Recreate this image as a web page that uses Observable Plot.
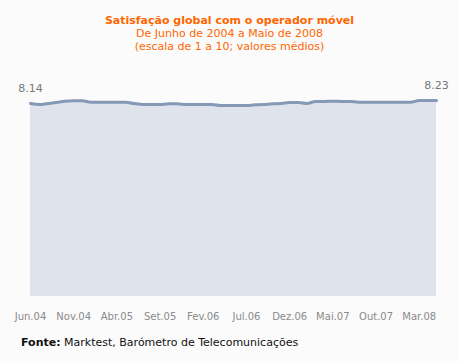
<!DOCTYPE html>
<html>
<head>
<meta charset="utf-8">
<script src="https://cdn.jsdelivr.net/npm/d3@7"></script>
<script src="https://cdn.jsdelivr.net/npm/@observablehq/plot@0.6"></script>
<style>
  html, body { margin: 0; padding: 0; background: #fbfbfb; }
  #wrap { position: relative; width: 459px; height: 361px; overflow: hidden; font-family: "DejaVu Sans", Verdana, sans-serif; }
  .t { position: absolute; left: 0; width: 459px; text-align: center; color: #ff6600; font-size: 11px; line-height: 13px; white-space: nowrap; }
  #t1 { top: 14px; font-weight: bold; }
  #t2 { top: 27px; }
  #t3 { top: 40px; }
  #cap { position: absolute; left: 21px; top: 336px; font-size: 11px; line-height: 13px; color: #111; white-space: nowrap; }
  #chart { position: absolute; left: 0; top: 0; }
</style>
</head>
<body>
<div id="wrap">
  <div id="chart"></div>
  <div class="t" id="t1">Satisfação global com o operador móvel</div>
  <div class="t" id="t2">De Junho de 2004 a Maio de 2008</div>
  <div class="t" id="t3">(escala de 1 a 10; valores médios)</div>
  <div id="cap"><b>Fonte:</b> Marktest, Barómetro de Telecomunicações</div>
</div>
<script>
const months = [
  "Jun.04","Jul.04","Ago.04","Set.04","Out.04","Nov.04","Dez.04",
  "Jan.05","Fev.05","Mar.05","Abr.05","Mai.05","Jun.05","Jul.05","Ago.05","Set.05","Out.05","Nov.05","Dez.05",
  "Jan.06","Fev.06","Mar.06","Abr.06","Mai.06","Jun.06","Jul.06","Ago.06","Set.06","Out.06","Nov.06","Dez.06",
  "Jan.07","Fev.07","Mar.07","Abr.07","Mai.07","Jun.07","Jul.07","Ago.07","Set.07","Out.07","Nov.07","Dez.07",
  "Jan.08","Fev.08","Mar.08","Abr.08","Mai.08"
];
const values = [
  8.14, 8.11, 8.14, 8.17, 8.21, 8.22, 8.22,
  8.18, 8.18, 8.18, 8.18, 8.18, 8.14, 8.11, 8.11, 8.11, 8.13, 8.13, 8.11,
  8.11, 8.11, 8.11, 8.08, 8.08, 8.08, 8.08, 8.10, 8.11, 8.13, 8.14, 8.17,
  8.17, 8.14, 8.20, 8.20, 8.21, 8.20, 8.20, 8.18, 8.18, 8.18, 8.18, 8.18,
  8.18, 8.18, 8.23, 8.23, 8.23
];
const tickLabels = ["Jun.04","Nov.04","Abr.05","Set.05","Fev.06","Jul.06","Dez.06","Mai.07","Out.07","Mar.08"];
const yBase = 2.35;
const yTop = 8.23;

const data = months.map((m, i) => ({month: m, value: values[i]}));
const endLabels = [data[0], data[data.length - 1]];

const chart = Plot.plot({
  width: 459,
  height: 361,
  marginLeft: 30,
  marginRight: 23,
  marginTop: 100,
  marginBottom: 65,
  style: {background: "transparent", fontFamily: "'DejaVu Sans', Verdana, sans-serif", fontSize: "10px"},
  x: {type: "point", domain: months, padding: 0, round: false, label: null},
  y: {domain: [yBase, yTop], axis: null},
  marks: [
    Plot.areaY(data, {x: "month", y1: yBase, y2: "value", fill: "#dfe3ec", curve: "monotone-x"}),
    Plot.lineY(data, {x: "month", y: "value", stroke: "#8399b5", strokeWidth: 3, curve: "monotone-x"}),
    Plot.text(endLabels, {x: "month", y: "value", text: d => d.value.toFixed(2), dy: -15, fill: "#777", fontSize: 11}),
    Plot.axisX({ticks: tickLabels, tickSize: 0, tickPadding: 16, color: "#8a8a8a", fontSize: 10})
  ]
});
document.getElementById("chart").appendChild(chart);
</script>
</body>
</html>
